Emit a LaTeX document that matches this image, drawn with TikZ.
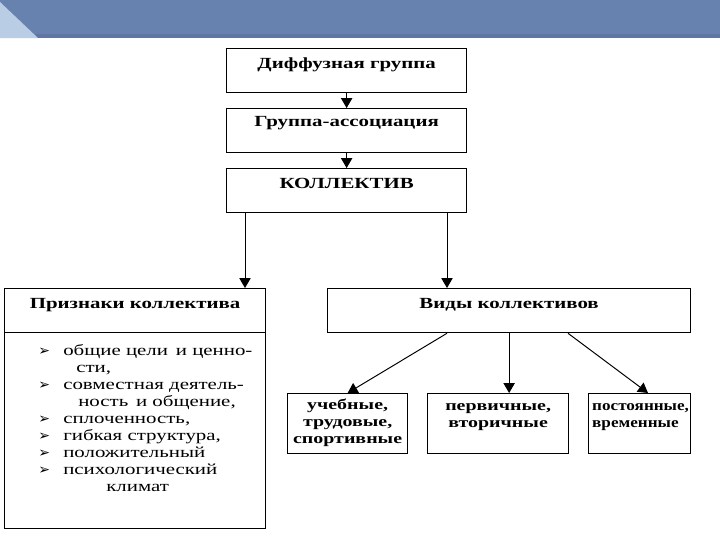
\documentclass[tikz,border=0pt]{standalone}
\usepackage{fontspec}
\setmainfont{Liberation Serif}[FakeStretch=1.35]
\newfontfamily\symfont{DejaVu Sans}
\usepackage{xcolor}
\usepackage{tikz}
\usetikzlibrary{arrows.meta,positioning,calc}

\definecolor{hdr}{HTML}{6882B0}
\definecolor{hdrdark}{HTML}{5F76A4}
\definecolor{hdrlight}{HTML}{B9CDE5}
\newcommand{\bul}{\makebox[0.625cm][l]{\symfont\fontsize{10}{10}\selectfont ➢}}

\begin{document}
\begin{tikzpicture}[
  every node/.style={font=\fontsize{11}{12}\selectfont},
  box/.style={draw, line width=0.9pt, rectangle, anchor=north west, inner sep=0pt},
  lbl/.style={font=\fontsize{11}{12}\selectfont\bfseries},
  sub/.style={font=\fontsize{10.5}{12}\selectfont\bfseries, align=center, anchor=north, inner sep=0pt},
  arr/.style={line width=0.7pt, -{Triangle[width=8pt,length=7pt]}}
]
\useasboundingbox (0,0) rectangle (18,-13.5);

%% header band
\fill[hdr] (0,0) rectangle (18,-0.95);
\fill[hdrdark] (0,-0.85) rectangle (18,-0.95);
\fill[hdrlight] (0,-0.05) -- (0.95,-0.95) -- (0,-0.95) -- cycle;

%% main chain
\node[box, minimum width=6cm, minimum height=1.1cm] (dif) at (5.65,-1.2) {};
\node[lbl] (difT) at ([yshift=-0.425cm]dif.north) {Диффузная группа};
\node[box, minimum width=6cm, minimum height=1.1cm] (grp) at (5.65,-2.7) {};
\node[lbl] (grpT) at ([yshift=-0.375cm]grp.north) {Группа-ассоциация};
\node[box, minimum width=6cm, minimum height=1.1cm] (kol) at (5.65,-4.2) {};
\node[lbl] (kolT) at ([yshift=-0.375cm]kol.north) {КОЛЛЕКТИВ};
\draw[arr] (dif) -- (grp);
\draw[arr] (grp) -- (kol);

%% features
\node[box, minimum width=6.525cm, minimum height=1.1cm] (pr) at (0.1,-7.2) {};
\node[lbl] (prT) at ([yshift=-0.425cm]pr.north) {Признаки коллектива};
\node[box, minimum width=6.525cm, minimum height=4.9cm] (prl) at (0.1,-8.3) {};
\node[anchor=north west, align=left, inner sep=0pt, font=\fontsize{11}{12.1}\selectfont]
  (prlT) at ([shift={(0.85,-0.3)}]prl.north west)
  {\bul общие цели\, и ценно-\\
   \hspace*{0.95cm}сти,\\
   \bul совместная деятель-\\
   \hspace*{1.0cm}ность\, и общение,\\
   \bul сплоченность,\\
   \bul гибкая структура,\\
   \bul положительный\\
   \bul психологический\\
   \hspace*{1.7cm}климат};

%% kinds
\node[box, minimum width=9.075cm, minimum height=1.1cm] (vid) at (8.175,-7.2) {};
\node[lbl] (vidT) at ([yshift=-0.425cm]vid.north) {Виды коллективов};
\node[box, minimum width=3cm, minimum height=1.5cm] (uch) at (7.175,-9.825) {};
\node[sub] (uchT) at ([yshift=-0.14cm]uch.north) {учебные,\\трудовые,\\спортивные};
\node[box, minimum width=3.525cm, minimum height=1.5cm] (per) at (10.675,-9.825) {};
\node[sub] (perT) at ([yshift=-0.25cm]per.north) {первичные,\\вторичные};
\node[box, minimum width=2.55cm, minimum height=1.5cm] (post) at (14.7,-9.825) {};
\node[sub, align=left, anchor=north west, xscale=0.86, transform shape]
  (postT) at ([shift={(0.1,-0.25)}]post.north west) {постоянные,\\временные};

\draw[arr] ([shift={(0.475,0)}]kol.south west) -- ([shift={(0.475,0)}]kol.south west |- pr.north);
\draw[arr] ([shift={(5.525,0)}]kol.south west) -- ([shift={(5.525,0)}]kol.south west |- vid.north);
\draw[arr] ([shift={(3.0,0)}]vid.south west) -- (uch.north);
\draw[arr] (vid.south) -- (vid.south |- per.north);
\draw[arr] ([shift={(6.025,0)}]vid.south west) -- ([shift={(1.5,0)}]post.north west);
\end{tikzpicture}
\end{document}
